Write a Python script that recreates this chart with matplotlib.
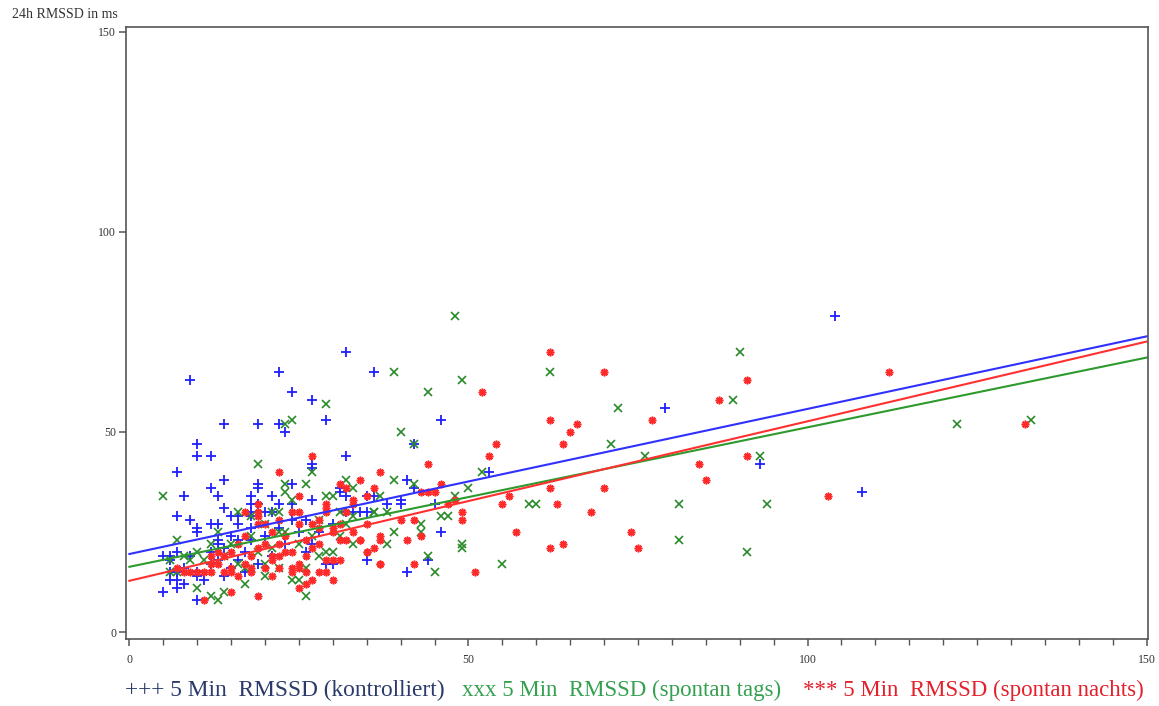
import numpy as np
import matplotlib
matplotlib.use("Agg")
import matplotlib.pyplot as plt
from matplotlib.ticker import MultipleLocator

plt.rcParams['font.family'] = ['Liberation Serif', 'DejaVu Serif']

# 5 Min RMSSD (x) against 24h RMSSD (y), one group per measuring condition
kontrolliert_x = [104, 32, 9, 22, 24, 27, 29, 14, 19, 22, 23, 10, 10, 12, 27, 27, 32, 7, 14, 36,
                  46, 42, 41, 42, 53, 40, 40, 38, 45, 35, 34, 35, 44, 41, 46, 79, 93, 108,
                  12, 13, 8, 19, 19, 24, 21, 18, 18, 14, 22, 27, 31, 31, 32, 36, 7, 9, 10, 10,
                  12, 13, 13, 13, 12, 15, 16, 16, 18, 18, 19, 20, 21, 24, 15, 16, 18, 5, 6, 7,
                  6, 5, 6, 7, 7, 8, 10, 10, 10, 13, 15, 32, 33, 35, 26, 29, 30, 6, 7, 11, 14,
                  17, 20, 22, 25, 23, 27, 21, 16, 19, 12, 9, 24, 28, 30, 18, 8, 26, 14, 17]
kontrolliert_y = [79, 70, 63, 65, 60, 58, 53, 52, 52, 52, 50, 47, 44, 44, 42, 41, 44, 40, 38, 65,
                  53, 47, 38, 36, 40, 33, 32, 32, 32, 34, 30, 18, 18, 15, 25, 56, 42, 35,
                  36, 34, 34, 37, 36, 37, 34, 34, 32, 31, 32, 33, 36, 35, 34, 34, 29, 28, 26, 25,
                  27, 27, 23, 22, 20, 29, 29, 27, 30, 29, 32, 30, 30, 32, 24, 23, 23, 19, 19, 20,
                  18, 10, 13, 13, 11, 12, 15, 14, 8, 18, 16, 30, 30, 30, 28, 17, 17, 15, 15, 13, 21,
                  20, 24, 26, 25, 22, 22, 19, 18, 17, 17, 19, 28, 25, 27, 26, 16, 20, 14, 15]

tags_x = [48, 39, 62, 49, 44, 90, 72, 89, 71, 76, 40, 42, 52, 50, 39, 42, 37, 48, 36, 38,
          46, 47, 59, 60, 43, 43, 39, 38, 49, 49, 44, 45, 55, 122, 133, 93, 81, 94, 81, 91,
          29, 23, 24, 19, 27, 32, 5, 23, 23, 26, 33, 29, 30, 24, 36, 21, 22,
          7, 6, 6, 7, 10, 12, 13, 14, 17, 20, 16, 18, 22, 23, 17, 18, 24, 25, 26, 26,
          28, 29, 30, 32, 33, 31, 20, 16, 18, 9, 10, 15, 12, 20, 27, 14, 11, 21, 25, 31,
          13, 19, 8, 33, 22, 28]
tags_y = [79, 65, 65, 63, 60, 70, 56, 58, 47, 44, 50, 47, 40, 36, 38, 37, 34, 34, 30, 30,
          29, 29, 32, 32, 27, 25, 25, 22, 22, 21, 19, 15, 17, 52, 53, 44, 32, 32, 23, 20,
          57, 52, 53, 42, 40, 38, 34, 37, 35, 37, 36, 34, 34, 33, 30, 30, 30,
          23, 18, 15, 15, 11, 9, 8, 10, 12, 14, 30, 29, 25, 25, 16, 16, 13, 13, 16, 9,
          19, 20, 20, 27, 29, 30, 17, 17, 24, 18, 20, 22, 22, 27, 24, 19, 18, 21, 22, 24,
          25, 20, 19, 22, 16, 28]

nachts_x = [62, 70, 52, 62, 66, 65, 77, 64, 54, 53, 44, 37, 34, 36, 46, 43, 44, 45, 49, 56,
            55, 63, 62, 70, 68, 57, 74, 75, 62, 64, 51, 42, 37, 35, 36, 37, 37, 41, 43, 40,
            42, 34, 35, 47, 48, 49, 91, 112, 87, 132, 91, 84, 85, 103,
            27, 22, 31, 25, 33, 29, 29, 32, 24, 25, 22, 19, 19, 25, 28, 31, 32, 33, 35,
            29, 30, 30, 28, 31, 33, 32, 34, 35, 29, 30, 29, 26, 27, 26, 25, 22, 24, 21, 20,
            19, 15, 11, 17, 19, 19, 15, 15, 12, 13, 9, 12, 26, 27, 23, 24, 21, 22, 25, 25,
            20, 19, 18, 17, 18, 18, 14, 15, 11, 10, 12, 31, 30, 28, 37, 24, 16, 17, 14, 21,
            23, 20, 27, 16, 13, 22, 26, 28, 21, 8, 7]
nachts_y = [70, 65, 60, 53, 52, 50, 53, 47, 47, 44, 42, 40, 38, 36, 37, 35, 35, 35, 30, 34,
            32, 32, 36, 36, 30, 25, 25, 21, 21, 22, 15, 17, 17, 20, 21, 24, 23, 23, 24, 28,
            28, 23, 27, 32, 33, 28, 63, 65, 58, 52, 44, 42, 38, 34,
            44, 40, 37, 34, 32, 32, 31, 30, 30, 30, 28, 29, 27, 27, 28, 27, 36, 33, 34,
            30, 26, 25, 26, 23, 25, 23, 23, 20, 18, 18, 15, 15, 13, 12, 11, 16, 15, 18, 16,
            9, 10, 8, 30, 32, 30, 16, 15, 17, 17, 15, 19, 23, 21, 20, 20, 19, 19, 17, 16,
            22, 21, 19, 17, 16, 15, 15, 20, 15, 15, 15, 18, 13, 15, 17, 16, 22, 24, 19, 25,
            24, 27, 27, 14, 20, 22, 19, 22, 14, 15, 16]

# linear regression lines: intercept, slope
fit_intercept = [19.5, 16.3, 12.8]
fit_slope = [0.3627, 0.3487, 0.3987]

col_blue = '#1f1fff'
col_green = '#2a8a2a'
col_red = '#ff2a2a'

fig = plt.figure(figsize=(11.59, 7.06), dpi=100)
ax = fig.add_axes([0.1087, 0.0949, 0.8818, 0.8669])

ax.plot(kontrolliert_x, kontrolliert_y, ls='none', marker='+', ms=6.5, mew=1.3, color=col_blue)
ax.plot(tags_x, tags_y, ls='none', marker='x', ms=6, mew=1.2, color=col_green)
ax.plot(nachts_x, nachts_y, ls='none', marker=(8, 2, 0), ms=5.5, mew=1.2, color=col_red)

xs = np.array([0, 150])
for b0, b1, c in zip(fit_intercept, fit_slope, ['#3030ff', '#2e9a2e', '#ff3030']):
    ax.plot(xs, b0 + b1 * xs, color=c, lw=1.5)

ax.set_xlim(-0.5, 150.2)
ax.set_ylim(-1.75, 151.25)
ax.set_xticks([0, 50, 100, 150])
ax.xaxis.set_minor_locator(MultipleLocator(5))
ax.set_yticks([0, 50, 100, 150])

for s in ax.spines.values():
    s.set_color('#555555')
    s.set_linewidth(1.2)
ax.tick_params(which='major', direction='out', length=5, width=1.1, color='#555555',
               labelsize=8.5, labelcolor='#333333')
ax.tick_params(axis='x', which='major', pad=6)
ax.tick_params(axis='y', which='major', pad=2)
ax.tick_params(which='minor', direction='out', length=4, width=1.0, color='#555555')

fig.text(12 / 1159, 1 - 15 / 706, '24h RMSSD in ms', fontsize=10, color='#333333',
         ha='left', va='center')

fig.text(125 / 1159, 1 - 690 / 706, '+++ 5 Min  RMSSD (kontrolliert)', fontsize=16.8,
         color='#2b3a6b', ha='left', va='center')
fig.text(462 / 1159, 1 - 690 / 706, 'xxx 5 Min  RMSSD (spontan tags)', fontsize=16.5,
         color='#35a050', ha='left', va='center')
fig.text(803 / 1159, 1 - 690 / 706, '*** 5 Min  RMSSD (spontan nachts)', fontsize=16.5,
         color='#e3202c', ha='left', va='center')

fig.savefig('out.png', dpi=100)
